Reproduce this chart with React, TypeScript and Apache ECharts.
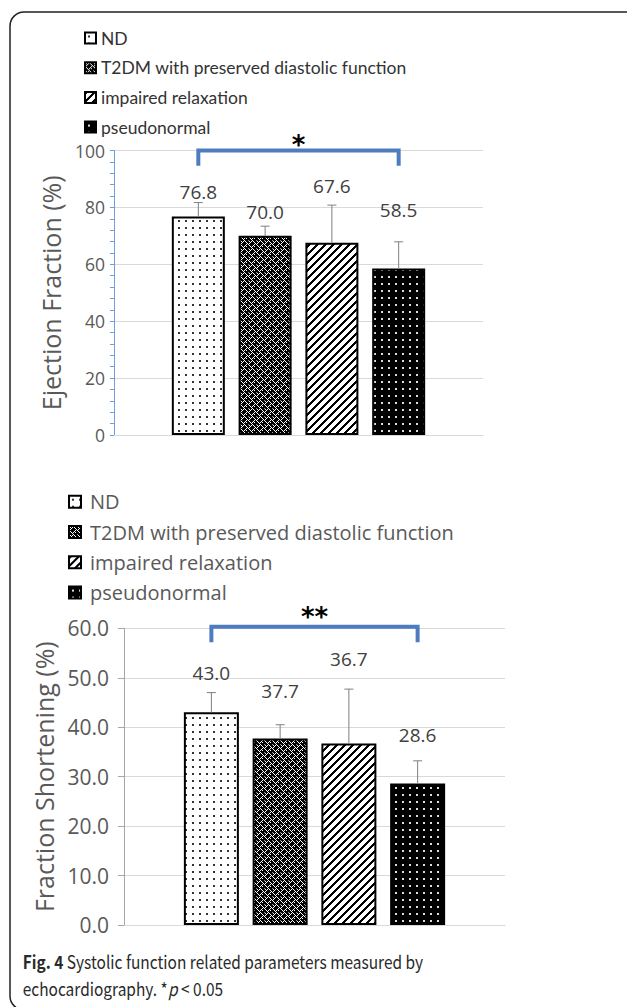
import React, { useEffect, useRef } from "react";
import * as echarts from "echarts";

const seriesNames = [
  "ND",
  "T2DM with preserved diastolic function",
  "impaired relaxation",
  "pseudonormal",
];
const categories = ["group"];
const efValues = [76.8, 70.0, 67.6, 58.5];
const efErrors = [4.9, 3.4, 13.2, 9.4];
const fsValues = [43.0, 37.7, 36.7, 28.6];
const fsErrors = [4.0, 2.8, 11.0, 4.6];
const efAxis = { min: 0, max: 100, interval: 20 };
const fsAxis = { min: 0, max: 60, interval: 10 };
const efSig = { from: 0, to: 3, top: 100, leg: 94.6, label: "*" };
const fsSig = { from: 0, to: 3, top: 60.3, leg: 57.2, label: "**" };

// label vertical offsets (px, style only)
const efLabelDy = [-14, -13, -46, -48];
const fsLabelDy = [-28, -37, -74, -38];

function makeTile(size: number, draw: (ctx: CanvasRenderingContext2D) => void) {
  const c = document.createElement("canvas");
  c.width = size;
  c.height = size;
  const ctx = c.getContext("2d")!;
  draw(ctx);
  return { image: c, repeat: "repeat", imageWidth: size, imageHeight: size };
}

function makePatterns() {
  const nd = makeTile(7, (ctx) => {
    ctx.fillStyle = "#fff";
    ctx.fillRect(0, 0, 7, 7);
    ctx.fillStyle = "#333";
    ctx.fillRect(3, 3, 2, 2);
  });
  const t2 = makeTile(8, (ctx) => {
    ctx.fillStyle = "#000";
    ctx.fillRect(0, 0, 8, 8);
    ctx.fillStyle = "#fff";
    for (let y = 0; y < 8; y++) {
      for (let x = 0; x < 8; x++) {
        const d = Math.hypot(x - 3.5, y - 3.5);
        if ((x + y) % 2 === 0 && d > 1.6 && d < 3.6) ctx.fillRect(x, y, 1, 1);
      }
    }
    ctx.fillStyle = "#999";
    ctx.fillRect(0, 0, 1, 1);
  });
  const ir = makeTile(8, (ctx) => {
    ctx.fillStyle = "#fff";
    ctx.fillRect(0, 0, 8, 8);
    ctx.fillStyle = "#000";
    for (let y = 0; y < 8; y++) {
      for (let x = 0; x < 8; x++) {
        if ((x + y) % 8 < 3) ctx.fillRect(x, y, 1, 1);
      }
    }
  });
  const ps = makeTile(7, (ctx) => {
    ctx.fillStyle = "#000";
    ctx.fillRect(0, 0, 7, 7);
    ctx.fillStyle = "#ddd";
    ctx.fillRect(3, 3, 2, 2);
  });
  return [nd, t2, ir, ps];
}

const chartFont = "'Open Sans', sans-serif";
const captionFont = "'Noto Sans CJK SC', sans-serif";
const greyText = "#595959";
const bracketBlue = "#4d7dbf";

export default function App() {
  const ref = useRef<HTMLDivElement>(null);
  useEffect(() => {
    if (!ref.current) return;
    const chart = echarts.init(ref.current, undefined, { renderer: "svg" });
    const patterns = makePatterns();

    const charts = [
      { values: efValues, errors: efErrors, dy: efLabelDy, barWidth: 53, gap: 0.26, sig: efSig, starDy: 6 },
      { values: fsValues, errors: fsErrors, dy: fsLabelDy, barWidth: 55, gap: 0.25, sig: fsSig, starDy: 10 },
    ];

    const series: any[] = [];
    charts.forEach((c, ci) => {
      const step = c.barWidth * (1 + c.gap);
      c.values.forEach((v, i) => {
        series.push({
          type: "bar",
          name: seriesNames[i],
          xAxisIndex: ci,
          yAxisIndex: ci,
          data: [v],
          barWidth: c.barWidth,
          barGap: Math.round(c.gap * 100) + "%",
          itemStyle: { color: patterns[i], borderColor: "#000", borderWidth: 2 },
          label: {
            show: true,
            position: "top",
            distance: 0,
            offset: [0, c.dy[i]],
            formatter: (p: any) => Number(p.value).toFixed(1),
            fontFamily: chartFont,
            fontSize: 19,
            lineHeight: 22,
            color: "#404040",
          },
          z: 2,
        });
      });
      series.push({
        type: "custom",
        xAxisIndex: ci,
        yAxisIndex: ci,
        z: 4,
        encode: { x: 0, y: 1 },
        data: c.values.map((v, i) => [0, v, c.errors[i], i]),
        renderItem: (params: any, api: any) => {
          const idx = api.value(3);
          const base = api.coord([0, api.value(1)]);
          const top = api.coord([0, api.value(1) + api.value(2)]);
          const x = base[0] + (idx - 1.5) * step;
          const st = { stroke: "#7f7f7f", lineWidth: 1 };
          return {
            type: "group",
            children: [
              { type: "line", shape: { x1: x, y1: base[1], x2: x, y2: top[1] }, style: st },
              { type: "line", shape: { x1: x - 4.5, y1: top[1], x2: x + 4.5, y2: top[1] }, style: st },
            ],
          };
        },
      });
      series.push({
        type: "custom",
        xAxisIndex: ci,
        yAxisIndex: ci,
        z: 5,
        clip: false,
        encode: { x: 0, y: 1 },
        data: [[0, c.sig.top, c.sig.leg, c.sig.from, c.sig.to]],
        renderItem: (params: any, api: any) => {
          const t = api.coord([0, api.value(1)]);
          const l = api.coord([0, api.value(2)]);
          const x0 = t[0] + (api.value(3) - 1.5) * step;
          const x1 = t[0] + (api.value(4) - 1.5) * step;
          return {
            type: "group",
            children: [
              {
                type: "polyline",
                shape: { points: [[x0, l[1]], [x0, t[1]], [x1, t[1]], [x1, l[1]]] },
                style: { stroke: bracketBlue, lineWidth: 4, fill: null, lineJoin: "miter" },
              },
              {
                type: "text",
                x: (x0 + x1) / 2,
                y: t[1] - c.starDy,
                style: {
                  text: c.sig.label,
                  fontFamily: "'DejaVu Sans', sans-serif",
                  fontWeight: "bold",
                  fontSize: 26,
                  fill: "#000",
                  align: "center",
                  verticalAlign: "middle",
                },
              },
            ],
          };
        },
      });
    });

    const yAxisBase = (ci: number) => ({
      type: "value",
      gridIndex: ci,
      nameLocation: "middle",
      nameRotate: 90,
      splitLine: { show: true, lineStyle: { color: "#d9d9d9", width: 1 } },
    });

    chart.setOption({
      animation: false,
      grid: [
        { left: 114, right: 144, top: 150.5, height: 284.5 },
        { left: 124, right: 122, top: 628.3, height: 296.7 },
      ],
      legend: [
        {
          orient: "vertical",
          left: 84,
          top: 28,
          padding: 0,
          itemWidth: 11,
          itemHeight: 11,
          itemGap: 9.7,
          icon: "rect",
          selectedMode: false,
          data: seriesNames,
          textStyle: { fontFamily: "Lato, sans-serif", fontSize: 17.5, lineHeight: 20, color: "#333" },
        },
        {
          orient: "vertical",
          left: 68,
          top: 490.7,
          padding: 0,
          itemWidth: 12,
          itemHeight: 12,
          itemGap: 8.3,
          icon: "rect",
          selectedMode: false,
          data: seriesNames,
          textStyle: {
            fontFamily: chartFont,
            fontSize: 20,
            lineHeight: 22,
            color: greyText,
            padding: [0, 0, 0, 4],
          },
        },
      ],
      xAxis: [0, 1].map((ci) => ({
        type: "category",
        gridIndex: ci,
        data: categories,
        axisLine: { show: true, lineStyle: { color: "#d9d9d9" } },
        axisTick: { show: false },
        axisLabel: { show: false },
      })),
      yAxis: [
        {
          ...yAxisBase(0),
          ...efAxis,
          name: "Ejection Fraction (%)",
          nameGap: 44,
          nameTextStyle: { fontFamily: chartFont, fontSize: 25, lineHeight: 26, color: greyText },
          axisLine: { show: true, lineStyle: { color: "#6f9fd8", width: 1 } },
          axisTick: { show: true, length: 4, lineStyle: { color: "#6f9fd8" } },
          minorTick: { show: true, splitNumber: 5, length: 4, lineStyle: { color: "#6f9fd8" } },
          axisLabel: { fontFamily: chartFont, fontSize: 17.5, color: greyText, margin: 9 },
        },
        {
          ...yAxisBase(1),
          ...fsAxis,
          name: "Fraction Shortening (%)",
          nameGap: 63,
          nameTextStyle: { fontFamily: chartFont, fontSize: 25, lineHeight: 26, color: greyText },
          axisLine: { show: true, lineStyle: { color: "#a6a6a6", width: 1 } },
          axisTick: { show: true, length: 6, lineStyle: { color: "#a6a6a6" } },
          axisLabel: {
            fontFamily: chartFont,
            fontSize: 21,
            color: greyText,
            margin: 15,
            formatter: (v: number) => v.toFixed(1),
          },
        },
      ],
      series,
      graphic: [
        {
          type: "rect",
          shape: { x: 10, y: 12, width: 660, height: 998, r: 14 },
          style: { fill: "none", stroke: "#222", lineWidth: 1.5 },
          z: -10,
          silent: true,
        },
        {
          type: "text",
          x: 22.7,
          y: 961,
          scaleX: 0.86,
          style: {
            text: "{b|Fig. 4} Systolic function related parameters measured by",
            fontFamily: captionFont,
            fontSize: 18,
            fill: "#2a2a2a",
            verticalAlign: "middle",
            rich: {
              b: { fontFamily: captionFont, fontSize: 18, fontWeight: "bold", fill: "#2a2a2a" },
            },
          },
        },
        {
          type: "text",
          x: 22.7,
          y: 988,
          scaleX: 0.86,
          style: {
            text: "echocardiography. *{i|p} < 0.05",
            fontFamily: captionFont,
            fontSize: 18,
            fill: "#2a2a2a",
            verticalAlign: "middle",
            rich: {
              i: { fontFamily: captionFont, fontSize: 18, fontStyle: "italic", fill: "#2a2a2a" },
            },
          },
        },
      ],
    });
    return () => chart.dispose();
  }, []);
  return (
    <div
      ref={ref}
      style={{ position: "absolute", left: 0, top: 0, width: 627, height: 1007, background: "#fff" }}
    />
  );
}
